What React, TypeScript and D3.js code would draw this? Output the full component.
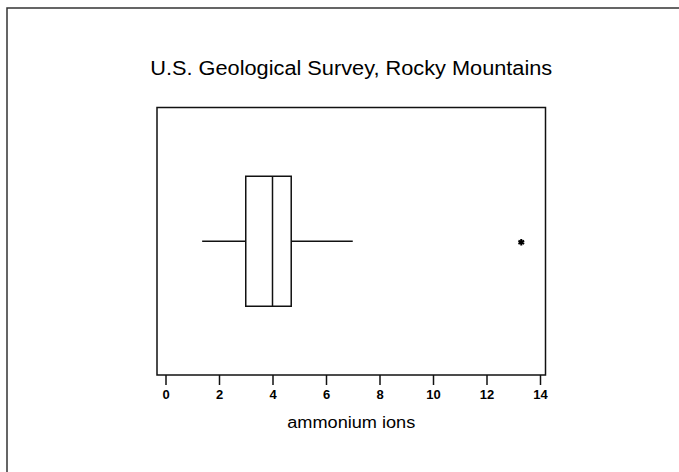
import React, { useEffect, useRef } from "react";
import * as d3 from "d3";

// box plot summary
const boxStats = { low: 1.37, q1: 3.0, median: 4.0, q3: 4.7, high: 7.0 };
const outliers = [13.3];
const tickValues = [0, 2, 4, 6, 8, 10, 12, 14];
const title = "U.S. Geological Survey, Rocky Mountains";
const xLabel = "ammonium ions";

const App = () => {
	const svgRef = useRef<SVGSVGElement>(null);

	useEffect(() => {
		const width = 679;
		const height = 472;
		const svg = d3.select(svgRef.current);
		svg.selectAll("*").remove();
		svg.attr("width", width).attr("height", height);

		const font = "'Liberation Sans', Arial, sans-serif";
		const narrow = "'Liberation Sans Narrow', 'Liberation Sans', Arial, sans-serif";

		// outer frame, runs off the right and bottom edges
		svg.append("rect")
			.attr("x", 7)
			.attr("y", 8)
			.attr("width", 700)
			.attr("height", 500)
			.attr("fill", "none")
			.attr("stroke", "#333")
			.attr("stroke-width", 1.5);

		const box = { left: 157, top: 107.5, right: 545.5, bottom: 375 };

		const x = d3.scaleLinear().domain([0, 14]).range([165.5, 540]);
		const yMid = (box.top + box.bottom) / 2;
		const boxHalf = 65;

		// title
		svg.append("text")
			.attr("x", (box.left + box.right) / 2)
			.attr("y", 75)
			.attr("text-anchor", "middle")
			.attr("textLength", 402)
			.attr("lengthAdjust", "spacingAndGlyphs")
			.style("font-family", narrow)
			.style("font-size", "20px")
			.style("fill", "#000")
			.text(title);

		// plot frame
		svg.append("rect")
			.attr("x", box.left)
			.attr("y", box.top)
			.attr("width", box.right - box.left)
			.attr("height", box.bottom - box.top)
			.attr("fill", "none")
			.attr("stroke", "#111")
			.attr("stroke-width", 1.5);

		// axis
		const axis = d3
			.axisBottom(x)
			.tickValues(tickValues)
			.tickSize(10)
			.tickSizeOuter(0)
			.tickPadding(5)
			.tickFormat(d3.format("d"));

		const gAxis = svg
			.append("g")
			.attr("transform", `translate(0,${box.bottom})`)
			.call(axis);
		gAxis.select(".domain").remove();
		gAxis.selectAll(".tick line").attr("stroke", "#111").attr("stroke-width", 1.5);
		gAxis.selectAll(".tick text")
			.attr("fill", "#000")
			.style("font-family", font)
			.style("font-size", "13px")
			.style("font-weight", "700");

		svg.append("text")
			.attr("x", (box.left + box.right) / 2)
			.attr("y", 428)
			.attr("text-anchor", "middle")
			.attr("textLength", 128)
			.attr("lengthAdjust", "spacingAndGlyphs")
			.style("font-family", narrow)
			.style("font-size", "16px")
			.style("fill", "#000")
			.text(xLabel);

		// box plot
		const g = svg.append("g").attr("stroke", "#111").attr("fill", "none");

		g.append("line")
			.attr("x1", x(boxStats.low))
			.attr("x2", x(boxStats.q1))
			.attr("y1", yMid)
			.attr("y2", yMid)
			.attr("stroke-width", 1.5);

		g.append("line")
			.attr("x1", x(boxStats.q3))
			.attr("x2", x(boxStats.high))
			.attr("y1", yMid)
			.attr("y2", yMid)
			.attr("stroke-width", 1.5);

		g.append("rect")
			.attr("x", x(boxStats.q1))
			.attr("y", yMid - boxHalf)
			.attr("width", x(boxStats.q3) - x(boxStats.q1))
			.attr("height", boxHalf * 2)
			.attr("stroke-width", 1.5);

		g.append("line")
			.attr("x1", x(boxStats.median))
			.attr("x2", x(boxStats.median))
			.attr("y1", yMid - boxHalf)
			.attr("y2", yMid + boxHalf)
			.attr("stroke-width", 1.5);

		// outliers
		const star = d3.symbol().type(d3.symbolAsterisk).size(30);
		svg.selectAll(".outlier")
			.data(outliers)
			.enter()
			.append("path")
			.attr("class", "outlier")
			.attr("transform", (d) => `translate(${x(d)},${yMid + 1})`)
			.attr("d", star)
			.attr("fill", "none")
			.attr("stroke", "#000")
			.attr("stroke-width", 2);
	}, []);

	return (
		<div style={{ position: "absolute", left: 0, top: 0, background: "#fff" }}>
			<svg ref={svgRef} style={{ display: "block" }}></svg>
		</div>
	);
};

export default App;
